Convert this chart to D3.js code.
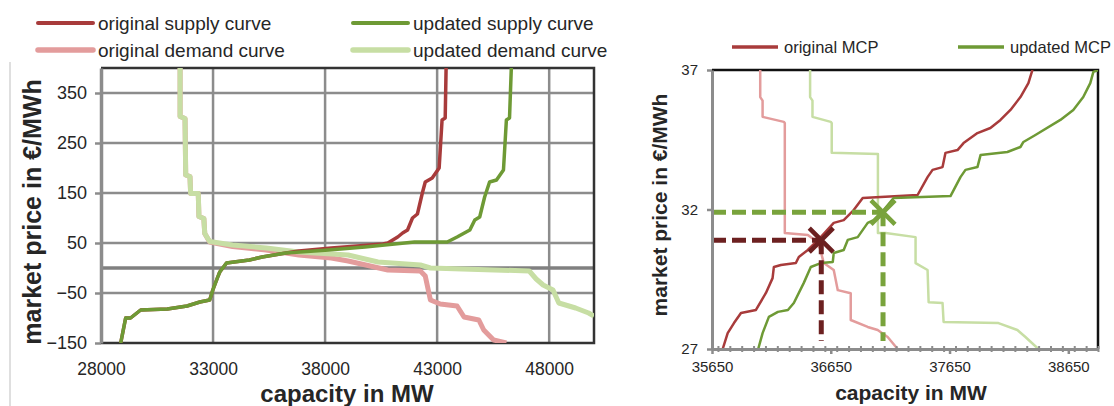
<!DOCTYPE html>
<html>
<head>
<meta charset="utf-8">
<script src="https://cdn.jsdelivr.net/npm/d3@7"></script>
<style>
  body { margin: 0; background: #fff; }
  text { font-family: "Liberation Sans", Arial, sans-serif; fill: #262626; }
</style>
</head>
<body>
<svg id="chart" width="1114" height="406"></svg>
<script>
// ---------- data: left chart (full curves) ----------
var origSupplyMW    = [28880, 29100, 29320, 29770, 30960, 31840, 32410, 32850, 32990, 33210, 33300, 33600, 34620, 35190, 36250, 36830, 38280, 40580, 40800, 41240, 41460, 41680, 41900, 42120, 42340, 42470, 42780, 43090, 43220, 43360, 43400];
var origSupplyPrice = [-150, -100, -100, -84, -82, -76, -68, -64, -44, -18, -8, 10, 16, 22, 30, 34, 40, 48, 50, 62, 70, 76, 100, 108, 150, 172, 180, 200, 296, 300, 400];

var updSupplyMW    = [28880, 29100, 29320, 29770, 30960, 31840, 32410, 32850, 32990, 33210, 33300, 33600, 34620, 35190, 36250, 38150, 39780, 41990, 43450, 43890, 44460, 44680, 44900, 45120, 45340, 45650, 45960, 46090, 46230, 46310];
var updSupplyPrice = [-150, -100, -100, -84, -82, -76, -68, -64, -44, -18, -8, 10, 16, 22, 30, 36, 42, 52, 52, 62, 76, 96, 102, 142, 172, 176, 196, 296, 300, 400];

var origDemandMW    = [31530, 31530, 31750, 31780, 31970, 32000, 32340, 32370, 32590, 32630, 32850, 33870, 35370, 36830, 38280, 39030, 40800, 42250, 42470, 42700, 43140, 43890, 44200, 44860, 45080, 45520, 46090];
var origDemandPrice = [400, 303, 299, 186, 183, 149, 149, 103, 99, 69, 52, 43, 36, 26, 20, 14, -4, -6, -16, -64, -72, -76, -98, -104, -124, -144, -150];

var updDemandMW    = [31530, 31530, 31750, 31780, 31970, 32000, 32340, 32370, 32590, 32630, 32850, 33870, 35370, 36830, 39030, 40360, 42250, 42700, 47110, 47420, 47730, 48170, 48430, 49180, 49760, 50000];
var updDemandPrice = [400, 303, 299, 186, 183, 149, 149, 103, 99, 69, 53, 46, 40, 32, 26, 12, 6, 0, -6, -22, -34, -44, -70, -80, -90, -96];

var xTicksL = [28000, 33000, 38000, 43000, 48000];
var yTicksL = [-150, -50, 50, 150, 250, 350];

// ---------- data: right chart (zoom around the MCP) ----------
var zOrigSupplyMW    = [35740, 35782, 35835, 35894, 36020, 36104, 36160, 36171, 36230, 36356, 36381, 36457, 36566, 36675, 36759, 36843, 36919, 37070, 37381, 37465, 37507, 37591, 37616, 37717, 37768, 37885, 37994, 38079, 38163, 38247, 38314, 38348];
var zOrigSupplyPrice = [27, 27.57, 27.93, 28.29, 28.40, 29.01, 29.54, 29.94, 30.01, 30.08, 30.30, 30.55, 31.01, 31.52, 31.62, 31.98, 32.41, 32.45, 32.52, 33.16, 33.42, 33.52, 34.03, 34.13, 34.38, 34.74, 34.92, 35.21, 35.57, 36.03, 36.53, 37];

var zUpdSupplyMW    = [36039, 36076, 36129, 36205, 36289, 36339, 36423, 36482, 36566, 36667, 36675, 36759, 36793, 36877, 36961, 37011, 37095, 37179, 37658, 37742, 37784, 37885, 37911, 38137, 38247, 38272, 38373, 38583, 38692, 38776, 38835, 38861, 38902];
var zUpdSupplyPrice = [27, 27.57, 28.15, 28.33, 28.40, 28.65, 29.37, 29.94, 30.08, 30.12, 30.44, 30.55, 30.91, 31.01, 31.52, 31.62, 31.98, 32.41, 32.48, 33.16, 33.42, 33.52, 33.95, 34.06, 34.24, 34.42, 34.67, 35.21, 35.57, 36.03, 36.53, 36.93, 37];

var zOrigDemandMW    = [36056, 36056, 36076, 36076, 36255, 36263, 36263, 36457, 36500, 36560, 36591, 36675, 36709, 36818, 36818, 36961, 37045, 37129, 37213];
var zOrigDemandPrice = [37, 36.03, 35.9, 35.32, 35.14, 35.1, 31.16, 31.09, 30.95, 30.6, 30.08, 29.83, 29.11, 29.0, 28.04, 27.79, 27.68, 27.43, 27];

var zUpdDemandMW    = [36476, 36476, 36496, 36496, 36650, 36658, 36658, 37047, 37047, 37112, 37364, 37364, 37465, 37474, 37591, 37600, 38062, 38221, 38289, 38398];
var zUpdDemandPrice = [37, 36.03, 35.9, 35.32, 35.14, 35.1, 34.03, 33.99, 31.16, 31.16, 31.01, 30.08, 29.83, 28.68, 28.65, 27.97, 27.93, 27.68, 27.43, 27];

var mcpMW    = [36570, 37090];   // original, updated
var mcpPrice = [30.9, 31.9];

var xTicksR = [35650, 36650, 37650, 38650];
var yTicksR = [27, 32, 37];

var cOrigSupply = "#a83b3b", cUpdSupply = "#6e9a35",
    cOrigDemand = "#e39c9c", cUpdDemand = "#c7dea4",
    cOrigMcp = "#6c2020", cUpdMcp = "#79a33c";

var svg = d3.select("#chart");

function pairs(xs, ys) { return xs.map(function(v, i) { return [v, ys[i]]; }); }

// faint frame line on the far left
svg.append("line").attr("x1", 10).attr("x2", 10).attr("y1", 62).attr("y2", 406)
   .attr("stroke", "#d4d4d4").attr("stroke-width", 1.5);

// ================= LEFT CHART =================
var L = { left: 101, right: 594, top: 68, bottom: 343 };
var xL = d3.scaleLinear().domain([28000, 50000]).range([L.left, L.right]);
var yL = d3.scaleLinear().domain([-150, 400]).range([L.bottom, L.top]);

var gL = svg.append("g");

// grid
gL.selectAll(".vgrid").data(xTicksL.slice(1)).enter().append("line")
  .attr("x1", function(d) { return xL(d); }).attr("x2", function(d) { return xL(d); })
  .attr("y1", L.top).attr("y2", L.bottom)
  .attr("stroke", "#8c8c8c").attr("stroke-width", 2.5);
gL.selectAll(".hgrid").data(yTicksL.slice(1)).enter().append("line")
  .attr("x1", L.left).attr("x2", L.right)
  .attr("y1", function(d) { return yL(d); }).attr("y2", function(d) { return yL(d); })
  .attr("stroke", "#8c8c8c").attr("stroke-width", 2.5);
// zero line
gL.append("line").attr("x1", L.left).attr("x2", L.right)
  .attr("y1", yL(0)).attr("y2", yL(0))
  .attr("stroke", "#808080").attr("stroke-width", 3.5);

// border
gL.append("path")
  .attr("d", "M" + L.left + "," + L.top + "H" + L.right + "V" + L.bottom + "H" + L.left)
  .attr("fill", "none").attr("stroke", "#333").attr("stroke-width", 2.5);

// y axis
var yAxisL = gL.append("g").attr("transform", "translate(" + L.left + ",0)")
  .call(d3.axisLeft(yL).tickValues(yTicksL).tickSize(6).tickPadding(8).tickSizeOuter(0));
yAxisL.select(".domain").attr("stroke", "#8c8c8c").attr("stroke-width", 3.5);
yAxisL.selectAll(".tick line").attr("stroke", "#8c8c8c").attr("stroke-width", 2.5);
yAxisL.selectAll("text").style("font-size", "18px").attr("fill", "#262626");

// x axis labels
var xAxisL = gL.append("g").attr("transform", "translate(0," + L.bottom + ")")
  .call(d3.axisBottom(xL).tickValues(xTicksL).tickSize(0).tickPadding(20).tickFormat(d3.format("d")));
xAxisL.select(".domain").remove();
xAxisL.selectAll("text").style("font-size", "17.5px").attr("fill", "#262626");

// curves
svg.append("clipPath").attr("id", "clipL").append("rect")
  .attr("x", L.left).attr("y", L.top).attr("width", L.right - L.left).attr("height", L.bottom - L.top);

var lineL = d3.line().x(function(d) { return xL(d[0]); }).y(function(d) { return yL(d[1]); });
var curvesL = gL.append("g").attr("clip-path", "url(#clipL)");
[[origDemandMW, origDemandPrice, cOrigDemand, 5],
 [updDemandMW, updDemandPrice, cUpdDemand, 5],
 [origSupplyMW, origSupplyPrice, cOrigSupply, 3.5],
 [updSupplyMW, updSupplyPrice, cUpdSupply, 3.5]].forEach(function(s) {
  curvesL.append("path").datum(pairs(s[0], s[1]))
    .attr("d", lineL).attr("fill", "none")
    .attr("stroke", s[2]).attr("stroke-width", s[3]).attr("stroke-linejoin", "round");
});

// titles
gL.append("text").attr("x", 347).attr("y", 402).attr("text-anchor", "middle")
  .style("font-size", "24px").style("font-weight", "bold").attr("fill", "#111")
  .text("capacity in MW");
gL.append("text").attr("transform", "translate(41,212) rotate(-90)").attr("text-anchor", "middle")
  .style("font-size", "25px").style("font-weight", "bold").attr("fill", "#111")
  .text("market price in €/MWh");

// legend
var legL = [
  { name: "original supply curve", c: cOrigSupply, w: 4, x: 38, y: 23 },
  { name: "original demand curve", c: cOrigDemand, w: 5.5, x: 38, y: 50 },
  { name: "updated supply curve", c: cUpdSupply, w: 4, x: 353, y: 23 },
  { name: "updated demand curve", c: cUpdDemand, w: 5.5, x: 353, y: 50 }
];
legL.forEach(function(d) {
  svg.append("line").attr("x1", d.x).attr("x2", d.x + 55).attr("y1", d.y).attr("y2", d.y)
    .attr("stroke", d.c).attr("stroke-width", d.w).attr("stroke-linecap", "round");
  svg.append("text").attr("x", d.x + 60).attr("y", d.y + 6.5)
    .style("font-size", "19px").text(d.name);
});

// ================= RIGHT CHART =================
var R = { left: 712, right: 1098, top: 70, bottom: 349 };
var xR = d3.scaleLinear().domain([35650, 38900]).range([R.left, R.right]);
var yR = d3.scaleLinear().domain([27, 37]).range([R.bottom, R.top]);
var gR = svg.append("g");

// top and right border
gR.append("path").attr("d", "M" + R.left + "," + R.top + "H" + R.right + "V" + R.bottom)
  .attr("fill", "none").attr("stroke", "#111").attr("stroke-width", 2.5);

svg.append("clipPath").attr("id", "clipR").append("rect")
  .attr("x", R.left).attr("y", R.top).attr("width", R.right - R.left).attr("height", R.bottom - R.top);

var lineR = d3.line().x(function(d) { return xR(d[0]); }).y(function(d) { return yR(d[1]); });
var curvesR = gR.append("g").attr("clip-path", "url(#clipR)");
[[zOrigDemandMW, zOrigDemandPrice, cOrigDemand],
 [zUpdDemandMW, zUpdDemandPrice, cUpdDemand],
 [zOrigSupplyMW, zOrigSupplyPrice, cOrigSupply],
 [zUpdSupplyMW, zUpdSupplyPrice, cUpdSupply]].forEach(function(s) {
  curvesR.append("path").datum(pairs(s[0], s[1]))
    .attr("d", lineR).attr("fill", "none")
    .attr("stroke", s[2]).attr("stroke-width", 2.5).attr("stroke-linejoin", "round");
});

// MCP dashed guides + crosses
var mcpColors = [cOrigMcp, cUpdMcp];
mcpMW.forEach(function(mw, i) {
  var px = xR(mw), py = yR(mcpPrice[i]);
  gR.append("line").attr("x1", R.left).attr("x2", px).attr("y1", py).attr("y2", py)
    .attr("stroke", mcpColors[i]).attr("stroke-width", 5).attr("stroke-dasharray", "14,6");
  gR.append("line").attr("x1", px).attr("x2", px).attr("y1", py).attr("y2", R.bottom - 8)
    .attr("stroke", mcpColors[i]).attr("stroke-width", 5).attr("stroke-dasharray", "14,6");
  var s = 12;
  gR.append("path")
    .attr("d", "M" + (px - s) + "," + (py - s) + "L" + (px + s) + "," + (py + s) +
               "M" + (px - s) + "," + (py + s) + "L" + (px + s) + "," + (py - s))
    .attr("stroke", mcpColors[i]).attr("stroke-width", 4.5);
});

// axes
var yAxisR = gR.append("g").attr("transform", "translate(" + R.left + ",0)")
  .call(d3.axisLeft(yR).tickValues(yTicksR).tickSize(5).tickPadding(9).tickSizeOuter(0));
yAxisR.select(".domain").attr("stroke", "#8c8c8c").attr("stroke-width", 3);
yAxisR.selectAll(".tick line").attr("stroke", "#8c8c8c").attr("stroke-width", 2.5);
yAxisR.selectAll("text").style("font-size", "15px").attr("fill", "#262626");

var xAxisR = gR.append("g").attr("transform", "translate(0," + R.bottom + ")")
  .call(d3.axisBottom(xR).ticks(33).tickSize(3).tickFormat("").tickSizeOuter(0));
xAxisR.select(".domain").attr("stroke", "#8c8c8c").attr("stroke-width", 3);
xAxisR.selectAll(".tick line").attr("stroke", "#8c8c8c").attr("stroke-width", 2).attr("y1", -3);
var xAxisR2 = gR.append("g").attr("transform", "translate(0," + R.bottom + ")")
  .call(d3.axisBottom(xR).tickValues(xTicksR).tickSize(5).tickPadding(7).tickFormat(d3.format("d")));
xAxisR2.select(".domain").remove();
xAxisR2.selectAll(".tick line").attr("stroke", "#8c8c8c").attr("stroke-width", 2.5);
xAxisR2.selectAll("text").style("font-size", "15px").attr("fill", "#262626");

gR.append("text").attr("x", 911).attr("y", 400).attr("text-anchor", "middle")
  .style("font-size", "21px").style("font-weight", "bold").attr("fill", "#111")
  .text("capacity in MW");
gR.append("text").attr("transform", "translate(667,205) rotate(-90)").attr("text-anchor", "middle")
  .style("font-size", "21px").style("font-weight", "bold").attr("fill", "#111")
  .text("market price in €/MWh");

// legend
[{ name: "original MCP", c: cOrigSupply, x: 732 },
 { name: "updated MCP", c: cUpdSupply, x: 958 }].forEach(function(d) {
  svg.append("line").attr("x1", d.x).attr("x2", d.x + 46).attr("y1", 47).attr("y2", 47)
    .attr("stroke", d.c).attr("stroke-width", 3.5);
  svg.append("text").attr("x", d.x + 52).attr("y", 53)
    .style("font-size", "16.5px").text(d.name);
});
</script>
</body>
</html>
